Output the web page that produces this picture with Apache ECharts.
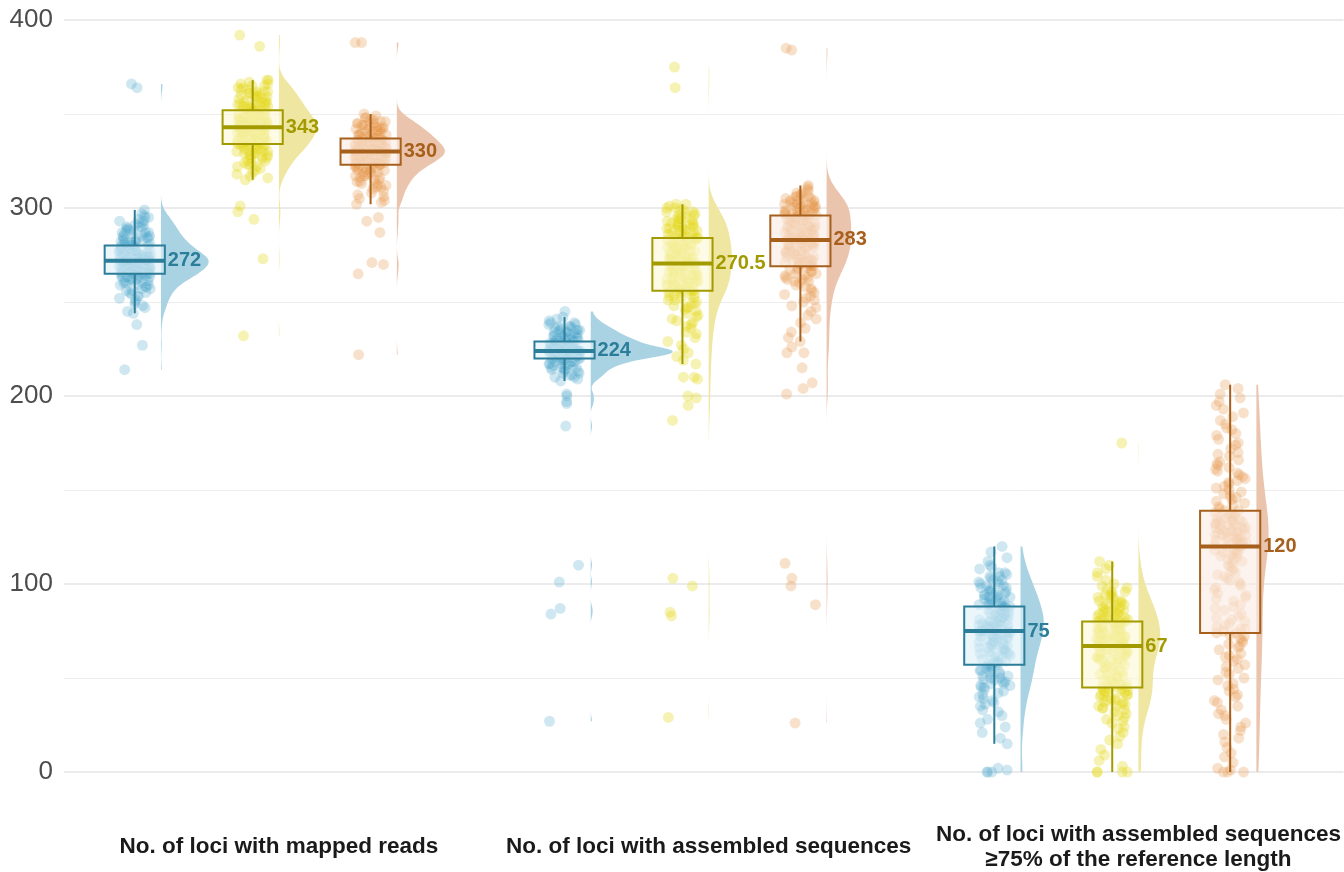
<!DOCTYPE html>
<html>
<head>
<meta charset="utf-8">
<title>Loci per sample</title>
<script src="https://cdn.jsdelivr.net/npm/echarts@6/dist/echarts.min.js"></script>
<style>
  html, body { margin: 0; padding: 0; background: #fff; }
  #chart { width: 1344px; height: 872px; }
</style>
</head>
<body>
<div id="chart"></div>
<script>
// categories on the x axis
const categories = [
  'No. of loci with mapped reads',
  'No. of loci with assembled sequences',
  'No. of loci with assembled sequences\n≥75% of the reference length'
];

// per-sample values, one array per group and category
const mappedBlue = [214,227,238,244,245,247,248,249,250,251,252,253,253,254,255,255,256,256,257,257,258,258,259,259,259,260,260,260,261,261,261,262,262,262,262,263,263,263,263,263,264,264,264,264,264,265,265,265,265,265,
  265,265,265,266,266,266,266,266,266,267,267,267,267,267,267,268,268,268,268,268,268,268,269,269,269,269,269,269,269,270,270,270,270,270,270,270,271,271,271,271,271,271,271,272,272,272,272,272,272,272,
  272,272,272,272,272,272,273,273,273,273,273,273,273,274,274,274,274,274,274,274,275,275,275,275,275,275,275,276,276,276,276,276,276,277,277,277,277,277,277,278,278,278,278,278,279,279,279,279,280,280,
  280,280,280,280,281,281,281,281,282,282,282,282,283,283,283,283,284,284,284,285,285,285,286,286,286,287,287,287,288,288,288,289,289,290,290,290,291,291,292,292,293,293,294,295,295,296,297,299,364,366];
const mappedYellow = [232,273,294,298,301,315,316,317,318,319,320,321,322,322,323,323,324,324,325,325,326,326,327,327,327,328,328,328,329,329,329,330,330,330,330,331,331,331,331,332,332,332,332,333,333,333,333,334,334,334,
  334,334,334,335,335,335,335,335,336,336,336,336,336,337,337,337,337,337,338,338,338,338,338,339,339,339,339,339,339,340,340,340,340,340,340,341,341,341,341,341,342,342,342,342,342,343,343,343,343,343,
  343,343,343,343,343,344,344,344,344,344,344,345,345,345,345,345,345,346,346,346,346,346,346,347,347,347,347,347,347,348,348,348,348,348,349,349,349,349,349,350,350,350,350,351,351,351,351,352,352,352,
  352,352,352,353,353,353,353,354,354,354,354,355,355,355,355,356,356,356,356,357,357,357,358,358,358,359,359,359,360,360,360,361,361,361,362,362,362,363,363,364,364,365,365,366,366,367,368,368,386,392];
const mappedOrange = [222,265,270,271,287,293,295,302,303,304,305,306,307,308,309,310,311,311,312,312,313,313,314,314,315,315,316,316,317,317,317,318,318,318,319,319,319,320,320,320,320,321,321,321,321,322,322,322,323,323,
  323,323,323,323,324,324,324,324,324,324,325,325,325,325,325,325,326,326,326,326,326,326,326,327,327,327,327,327,327,327,328,328,328,328,328,328,328,329,329,329,329,329,329,329,330,330,330,330,330,330,
  330,330,330,330,330,330,331,331,331,331,331,331,331,332,332,332,332,332,332,332,333,333,333,333,333,333,333,334,334,334,334,334,334,334,335,335,335,335,335,335,336,336,336,336,336,336,337,337,337,337,
  337,337,337,337,338,338,338,338,338,339,339,339,339,339,340,340,340,340,340,341,341,341,341,341,342,342,342,342,343,343,343,343,344,344,344,344,345,345,345,346,346,346,347,347,348,348,349,350,388,388];

const assembledBlue = [27,84,87,101,110,184,196,197,200,201,208,209,210,210,211,211,212,212,213,213,214,214,214,215,215,215,216,216,216,216,217,217,217,217,218,218,218,218,218,219,219,219,219,219,219,220,220,220,220,220,
  220,220,220,220,221,221,221,221,221,221,221,221,221,221,222,222,222,222,222,222,222,222,222,222,222,222,222,223,223,223,223,223,223,223,223,223,223,223,223,224,224,224,224,224,224,224,224,224,224,224,
  224,224,224,224,224,224,224,224,224,224,225,225,225,225,225,225,225,225,225,225,225,226,226,226,226,226,226,226,226,226,227,227,227,227,227,227,227,227,228,228,228,228,228,228,228,229,229,229,229,229,
  229,229,229,229,230,230,230,230,230,230,231,231,231,231,231,231,232,232,232,232,232,233,233,233,233,233,234,234,234,234,235,235,235,235,236,236,236,237,237,237,238,238,239,239,240,241,242,245];
const assembledYellow = [29,83,85,99,103,187,195,199,200,209,210,210,217,219,221,223,225,227,229,231,233,234,236,237,238,239,240,241,242,243,244,245,246,247,247,248,249,249,250,251,251,252,252,253,253,254,254,255,255,256,
  256,256,256,257,257,257,258,258,258,259,259,259,259,260,260,260,260,261,261,261,262,262,262,262,263,263,263,264,264,264,264,265,265,265,266,266,266,266,267,267,267,268,268,268,269,269,269,270,270,270,
  271,271,271,271,272,272,272,272,273,273,273,273,274,274,274,274,275,275,275,275,276,276,276,276,277,277,277,277,278,278,278,278,279,279,279,280,280,280,280,281,281,281,282,282,282,283,283,283,284,284,
  284,284,285,285,285,286,286,286,287,287,287,288,288,288,289,289,289,290,290,290,290,291,291,291,291,292,292,292,293,293,294,294,294,295,295,296,296,297,297,298,298,299,299,300,300,301,302,302,364,375];
const assembledOrange = [26,89,99,103,111,201,204,207,215,223,223,226,229,231,234,236,239,241,243,245,247,248,250,251,252,253,254,255,256,257,258,259,260,261,261,262,262,263,263,264,264,265,265,266,266,267,267,268,268,269,
  269,269,269,270,270,270,271,271,271,272,272,272,272,273,273,273,273,274,274,274,275,275,275,275,276,276,276,277,277,277,277,278,278,278,279,279,279,279,280,280,280,281,281,281,282,282,282,283,283,283,
  283,283,283,283,284,284,284,284,285,285,285,285,286,286,286,286,287,287,287,287,288,288,288,288,289,289,289,289,290,290,290,290,291,291,291,292,292,292,292,293,293,293,294,294,294,295,295,295,296,296,
  296,296,297,297,297,297,298,298,298,298,299,299,299,299,300,300,300,300,300,301,301,301,301,302,302,302,302,302,303,303,303,304,304,304,305,305,305,306,306,306,307,307,308,308,309,310,311,312,384,385];

const longBlue = [0,0,0,1,2,15,18,21,24,26,28,30,32,33,35,36,37,38,39,40,41,42,43,44,45,45,46,46,47,47,48,48,49,49,50,50,51,51,52,52,53,53,54,54,55,55,56,56,57,57,
  57,58,58,59,59,60,60,61,61,62,62,63,63,63,64,64,64,65,65,65,66,66,66,67,67,67,68,68,68,69,69,69,70,70,70,71,71,71,72,72,72,73,73,73,74,74,74,75,75,75,
  75,75,75,76,76,76,76,77,77,77,77,78,78,78,78,79,79,79,79,80,80,80,80,81,81,81,81,82,82,82,82,83,83,83,83,84,84,84,84,85,85,85,86,86,86,87,87,87,88,88,
  88,88,89,89,89,90,90,90,91,91,91,92,92,92,93,93,93,94,94,94,95,95,96,96,96,97,97,98,98,99,99,100,100,101,101,102,102,103,104,104,105,106,106,108,109,110,112,114,117,120];
const longYellow = [0,0,0,0,3,6,9,12,15,17,19,21,23,24,26,27,28,29,30,31,32,33,34,34,35,35,36,36,37,37,38,38,39,39,40,40,41,41,41,42,42,42,43,43,43,44,44,44,45,45,
  45,46,46,47,47,48,48,49,49,50,50,51,51,52,52,53,53,54,54,55,55,56,56,57,57,58,58,59,59,60,60,60,61,61,61,62,62,62,63,63,63,64,64,64,65,65,66,66,67,67,
  67,67,67,68,68,68,68,69,69,69,69,70,70,70,70,71,71,71,71,72,72,72,72,73,73,73,73,74,74,74,74,75,75,75,75,76,76,76,76,77,77,77,78,78,78,79,79,79,80,80,
  80,80,81,81,81,82,82,82,83,83,83,84,84,84,85,85,85,86,86,86,87,87,87,88,88,89,89,89,90,90,91,91,92,92,93,93,94,94,95,96,96,97,98,99,100,102,104,106,108,110,112,175];
const longOrange = [0,0,0,1,2,5,8,10,13,16,18,20,22,24,26,28,30,31,33,35,37,38,40,41,43,44,46,47,49,50,52,53,55,56,57,59,60,61,62,63,65,66,67,68,69,70,71,72,73,74,
  74,75,76,76,77,78,79,80,81,82,83,84,86,87,88,89,91,92,93,94,95,97,98,99,100,101,102,103,104,105,106,107,108,109,110,111,112,113,113,114,115,115,116,116,117,117,118,118,119,120,
  120,121,121,122,122,122,123,123,123,124,124,124,125,125,125,126,126,126,127,127,127,128,128,128,129,129,129,130,130,130,131,131,131,132,132,132,133,133,133,134,134,134,135,135,136,136,137,137,138,139,
  139,140,141,142,143,144,145,146,147,148,149,150,151,152,153,154,155,156,157,158,159,160,161,162,163,164,165,166,168,169,170,172,174,175,177,179,180,182,183,185,187,189,191,193,195,197,199,201,204,206];

// box statistics: [lower whisker, Q1, median, Q3, upper whisker]
const boxBlue = [[244, 265, 272, 280, 299], [208, 220, 224, 229, 242], [15, 57, 75, 88, 120]];
const boxYellow = [[315, 334, 343, 352, 368], [217, 256, 270.5, 284, 302], [0, 45, 67, 80, 112]];
const boxOrange = [[302, 323, 330, 337, 350], [229, 269, 283, 296, 312], [0, 74, 120, 139, 206]];

const yTicks = [0, 100, 200, 300, 400];

// ---- layout / style ----
const groupValues = [
  [mappedBlue, assembledBlue, longBlue],
  [mappedYellow, assembledYellow, longYellow],
  [mappedOrange, assembledOrange, longOrange]
];
const groupBoxes = [boxBlue, boxYellow, boxOrange];
const groupOffset = [-0.2744, 0, 0.2744];
const boxShift = -0.061;
const boxHalf = 0.07;
const jitterHalf = 0.037;
const violinMax = 82 / 430;

const darkColors = ['#2b7d99', '#a39a00', '#a6601c'];
const pointColors = ['rgba(79,169,204,0.34)', 'rgba(228,216,30,0.42)', 'rgba(232,150,76,0.36)'];
const violinColors = ['#a9d3e3', '#eee6a1', '#ebc4ae'];
const boxFills = ['rgba(222,241,248,0.62)', 'rgba(252,249,214,0.62)', 'rgba(250,236,227,0.62)'];

function quantile (sorted, p) {
  const h = (sorted.length - 1) * p
  const lo = Math.floor(h)
  const hi = Math.min(lo + 1, sorted.length - 1)
  return sorted[lo] + (h - lo) * (sorted[hi] - sorted[lo])
}

// gaussian kernel density, bandwidth as R's bw.nrd0, trimmed to the data range
function density (values) {
  const xs = values.slice().sort((a, b) => a - b)
  const n = xs.length
  const mean = xs.reduce((s, v) => s + v, 0) / n
  const sd = Math.sqrt(xs.reduce((s, v) => s + (v - mean) * (v - mean), 0) / (n - 1))
  const iqr = quantile(xs, 0.75) - quantile(xs, 0.25)
  const bw = 0.9 * Math.min(sd, iqr / 1.34) * Math.pow(n, -0.2)
  const lo = xs[0]
  const hi = xs[n - 1]
  const out = []
  const steps = 400
  for (let k = 0; k <= steps; k++) {
    const y = lo + (hi - lo) * k / steps
    let d = 0
    for (const v of xs) {
      const u = (y - v) / bw
      d += Math.exp(-0.5 * u * u)
    }
    out.push([y, d / (n * bw * Math.sqrt(2 * Math.PI))])
  }
  return out
}

const densities = groupValues.map(g => g.map(density))
let maxDensity = 0
densities.forEach(g => g.forEach(d => d.forEach(p => { maxDensity = Math.max(maxDensity, p[1]) })))

function jitter (i, seed) {
  const s = Math.sin(i * 12.9898 + seed * 78.233) * 43758.5453
  return (s - Math.floor(s)) * 2 - 1
}

const series = []

// half violins
groupValues.forEach((cats, g) => {
  series.push({
    type: 'custom',
    z: 1,
    silent: true,
    data: cats.map((vals, c) => [c + 1, Math.min(...vals), Math.max(...vals)]),
    encode: { x: 0, y: [1, 2] },
    renderItem (params, api) {
      const c = api.value(0)
      const dens = densities[g][c - 1]
      const base = c + groupOffset[g]
      const pts = [api.coord([base, dens[0][0]])]
      dens.forEach(([y, d]) => pts.push(api.coord([base + d / maxDensity * violinMax, y])))
      pts.push(api.coord([base, dens[dens.length - 1][0]]))
      return { type: 'polygon', shape: { points: pts }, style: { fill: violinColors[g] } }
    }
  })
})

// jittered points
groupValues.forEach((cats, g) => {
  const data = []
  cats.forEach((vals, c) => {
    vals.forEach((v, i) => {
      data.push([c + 1 + groupOffset[g] + boxShift + jitter(i, g * 3 + c + 1) * jitterHalf, v])
    })
  })
  series.push({
    type: 'scatter',
    z: 2,
    clip: false,
    silent: true,
    symbol: 'circle',
    symbolSize: 11,
    itemStyle: { color: pointColors[g], borderColor: 'rgba(255,255,255,0.25)', borderWidth: 0.6 },
    data: data
  })
})

// boxes with median labels
groupBoxes.forEach((boxes, g) => {
  series.push({
    type: 'custom',
    z: 3,
    silent: true,
    data: boxes.map((b, c) => [c + 1].concat(b)),
    encode: { x: 0, y: [1, 5] },
    renderItem (params, api) {
      const x = api.value(0) + groupOffset[g] + boxShift
      const low = api.coord([x, api.value(1)])
      const q1 = api.coord([x, api.value(2)])
      const med = api.coord([x, api.value(3)])
      const q3 = api.coord([x, api.value(4)])
      const high = api.coord([x, api.value(5)])
      const left = api.coord([x - boxHalf, 0])[0]
      const right = api.coord([x + boxHalf, 0])[0]
      const stroke = darkColors[g]
      return {
        type: 'group',
        children: [
          { type: 'line', shape: { x1: high[0], y1: high[1], x2: q3[0], y2: q3[1] }, style: { stroke, lineWidth: 2 } },
          { type: 'line', shape: { x1: q1[0], y1: q1[1], x2: low[0], y2: low[1] }, style: { stroke, lineWidth: 2 } },
          { type: 'rect', shape: { x: left, y: q3[1], width: right - left, height: q1[1] - q3[1] }, style: { fill: boxFills[g], stroke, lineWidth: 2 } },
          { type: 'line', shape: { x1: left, y1: med[1], x2: right, y2: med[1] }, style: { stroke, lineWidth: 4 } },
          {
            type: 'text',
            x: right + 3,
            y: med[1],
            style: {
              text: String(api.value(3)),
              fill: stroke,
              font: 'bold 20px "Liberation Sans", Arial, sans-serif',
              align: 'left',
              verticalAlign: 'middle'
            }
          }
        ]
      }
    }
  })
})

const chart = echarts.init(document.getElementById('chart'))
chart.setOption({
  animation: false,
  backgroundColor: '#ffffff',
  grid: { left: 64, right: 0, top: 20, bottom: 93 },
  xAxis: {
    type: 'value',
    min: 0.5,
    max: 3.477,
    axisLine: { show: false },
    axisTick: { show: false },
    splitLine: { show: false },
    axisLabel: {
      customValues: [1, 2, 3],
      formatter: v => categories[Math.round(v) - 1],
      fontSize: 22.5,
      fontWeight: 'bold',
      fontFamily: '"Liberation Sans", Arial, sans-serif',
      color: '#1a1a1a',
      margin: 75,
      verticalAlign: 'middle',
      lineHeight: 25
    }
  },
  yAxis: {
    type: 'value',
    min: yTicks[0],
    max: yTicks[yTicks.length - 1],
    interval: 100,
    axisLine: { show: false },
    axisTick: { show: false },
    axisLabel: {
      fontSize: 26,
      fontFamily: '"Liberation Sans", Arial, sans-serif',
      color: '#4d4d4d',
      margin: 11
    },
    splitLine: { lineStyle: { color: '#ebebeb', width: 2 } },
    minorTick: { show: false, splitNumber: 2 },
    minorSplitLine: { show: true, lineStyle: { color: '#ededed', width: 1 } }
  },
  series: series
})
</script>
</body>
</html>
